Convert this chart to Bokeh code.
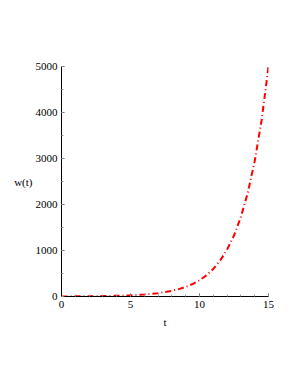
from bokeh.plotting import figure
from bokeh.models import Range1d, FixedTicker
from bokeh.embed import file_html
from bokeh.resources import INLINE

t_vals = [0, 1, 2, 3, 4, 5, 6, 7, 8, 8.5, 9, 9.5, 10, 10.5, 11, 11.5, 12, 12.5, 13, 13.5, 14, 14.5, 15]
w_vals = [2, 3, 5, 9, 15, 25, 43, 72, 123, 160, 208, 271, 353, 460, 600, 781, 1020, 1327, 1732, 2256, 2943, 3834, 5000]
x_ticks = [0, 5, 10, 15]
y_ticks = [0, 1000, 2000, 3000, 4000, 5000]

p = figure(frame_width=207, frame_height=230, output_backend="svg", toolbar_location=None,
           x_range=Range1d(0, 15), y_range=Range1d(0, 5000),
           min_border_left=61, min_border_top=66, min_border_right=10, min_border_bottom=60)
p.outline_line_color = None
p.grid.visible = False
p.background_fill_color = "white"

p.line(t_vals, w_vals, line_color="red", line_width=2, line_dash="6 3 1 3")

for ax in (p.xaxis[0], p.yaxis[0]):
    ax.major_label_text_font = "Liberation Serif"
    ax.major_label_text_font_size = "11px"
    ax.major_label_text_color = "black"
    ax.axis_label_text_font = "Liberation Serif"
    ax.axis_label_text_font_size = "11px"
    ax.axis_label_text_font_style = "normal"
    ax.axis_label_text_color = "black"
    ax.axis_line_color = "black"
    ax.major_tick_in = 3
    ax.major_tick_out = 0
    ax.minor_tick_in = 2
    ax.minor_tick_out = 0
    ax.major_tick_line_color = "#555555"
    ax.minor_tick_line_color = "#999999"

p.xaxis[0].ticker = FixedTicker(ticks=x_ticks, minor_ticks=list(range(0, 16)))
p.yaxis[0].ticker = FixedTicker(ticks=y_ticks, minor_ticks=list(range(0, 5001, 500)))
p.xaxis[0].axis_label = "t"
p.yaxis[0].axis_label = "w(t)"
p.yaxis[0].axis_label_orientation = "horizontal"
p.yaxis[0].major_label_standoff = 4
p.xaxis[0].major_label_standoff = 4
p.yaxis[0].axis_label_standoff = 0

open("out.html", "w").write(file_html(p, INLINE))
